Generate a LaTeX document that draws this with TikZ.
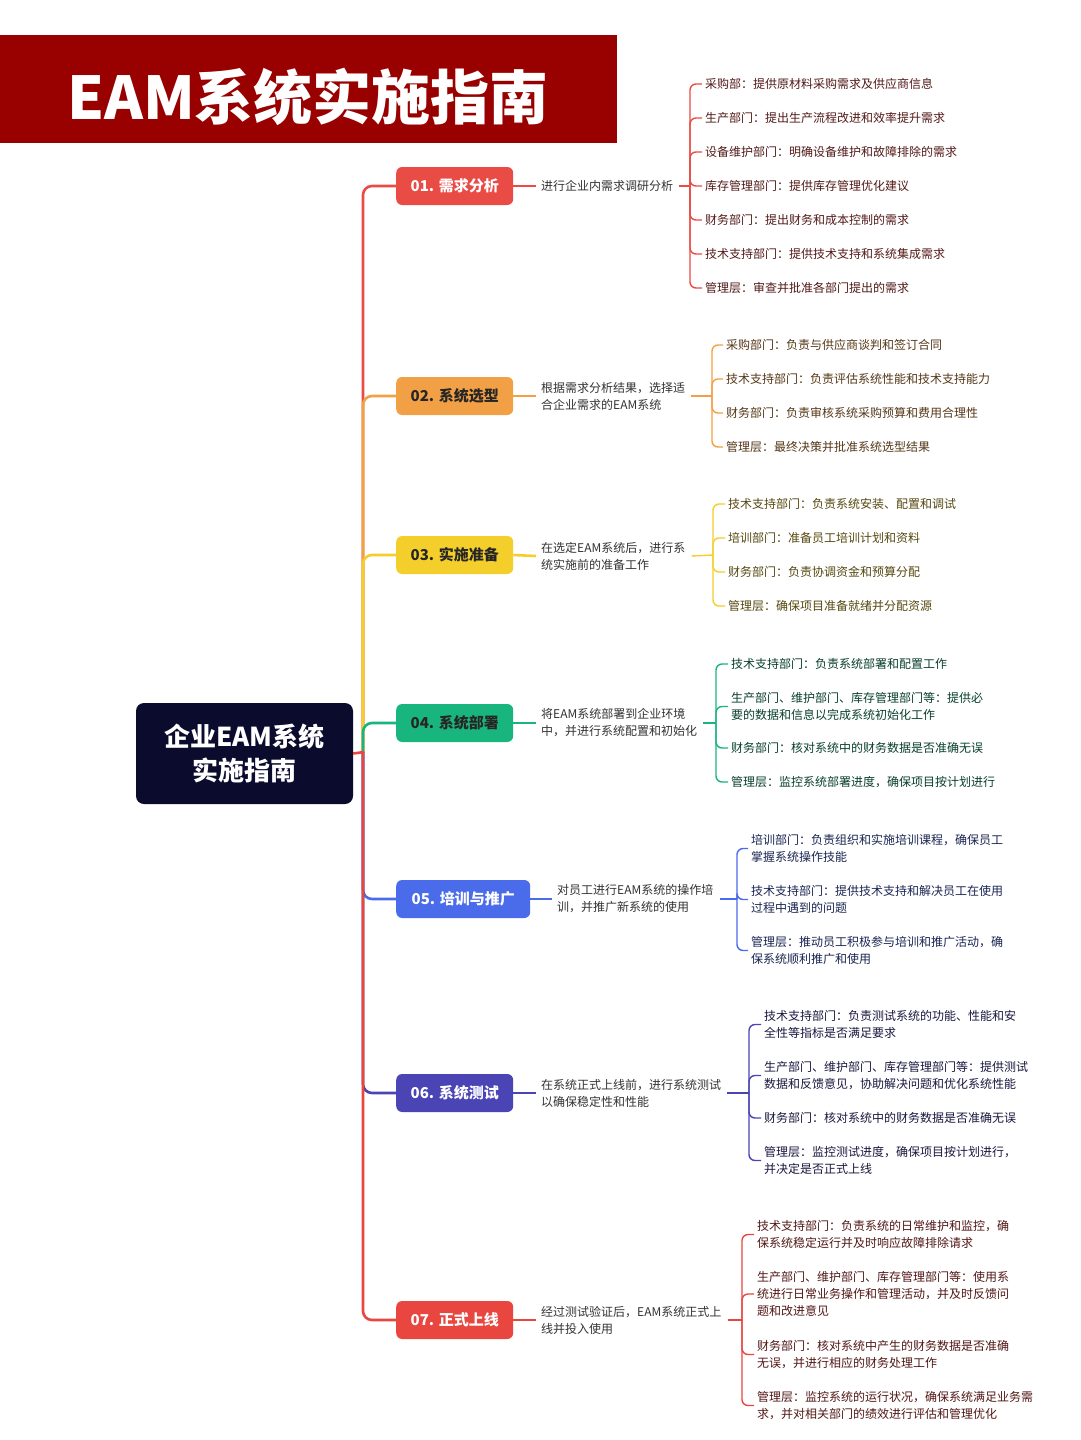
\documentclass[tikz,border=0pt]{standalone}
\usepackage{fontspec}
\setmainfont{Noto Sans CJK SC}
\usepackage{xcolor}
\usetikzlibrary{positioning}

\definecolor{banner}{HTML}{990000}
\definecolor{rootnavy}{HTML}{0B0B2E}
\definecolor{c1}{HTML}{E94B45}
\definecolor{c2}{HTML}{F2A045}
\definecolor{c3}{HTML}{F4CF2B}
\definecolor{c4}{HTML}{19B57E}
\definecolor{c5}{HTML}{4A6BEA}
\definecolor{c6}{HTML}{4A44B5}
\definecolor{c7}{HTML}{E8463F}

\begin{document}
\begin{tikzpicture}[x=1pt,y=-1pt,
	root/.style={fill=rootnavy,text=white,rounded corners=8pt,minimum width=217pt,minimum height=101pt,
		align=center,font=\fontsize{26}{34}\selectfont\bfseries},
	stage/.style={anchor=west,rounded corners=6pt,minimum width=117pt,minimum height=38pt,inner sep=0pt,
		font=\fontsize{15}{16}\selectfont\bfseries},
	desc/.style={anchor=west,align=left,inner sep=0pt,text=black!80,font=\fontsize{12}{17}\selectfont},
	leaf/.style={anchor=west,align=left,inner sep=0pt,text=#1!35!black,font=\fontsize{12}{17}\selectfont},
	trunk/.style={line width=2.6pt,rounded corners=9pt},
	twig/.style={line width=1.4pt,rounded corners=6pt}]
	
	\useasboundingbox (0,0) rectangle (1080,1440);
	\fill[white] (0,0) rectangle (1080,1440);
	
	% title banner
	\fill[banner] (0,35) rectangle (617,143);
	\node[text=white,font=\fontsize{59}{60}\selectfont\bfseries] (title) at (308,97) {EAM系统实施指南};
	
	\node[root] (root) at (244.5,753.5) {企业EAM系统\\实施指南};
	\coordinate (hub) at (363,752);
	
	\node[stage,fill=c1,text=white] (s1) at (396,186) {01. 需求分析};
	\node[stage,fill=c2,text=black!85] (s2) at (396,396) {02. 系统选型};
	\node[stage,fill=c3,text=black!85] (s3) at (396,555) {03. 实施准备};
	\node[stage,fill=c4,text=black!85] (s4) at (396,723) {04. 系统部署};
	\node[stage,fill=c5,text=white,minimum width=134pt] (s5) at (396,899) {05. 培训与推广};
	\node[stage,fill=c6,text=white] (s6) at (396,1093) {06. 系统测试};
	\node[stage,fill=c7,text=white] (s7) at (396,1320) {07. 正式上线};
	
	\node[desc] (d1) at (541,186) {进行企业内需求调研分析};
	\node[desc] (d2) at (541,396) {根据需求分析结果，选择适\\合企业需求的EAM系统};
	\node[desc] (d3) at (541,556) {在选定EAM系统后，进行系\\统实施前的准备工作};
	\node[desc] (d4) at (541,723) {将EAM系统部署到企业环境\\中，并进行系统配置和初始化};
	\node[desc] (d5) at (557,899) {对员工进行EAM系统的操作培\\训，并推广新系统的使用};
	\node[desc] (d6) at (541,1093) {在系统正式上线前，进行系统测试\\以确保稳定性和性能};
	\node[desc] (d7) at (541,1320) {经过测试验证后，EAM系统正式上\\线并投入使用};
	
	\coordinate (b1) at (690,186);
	\coordinate (b2) at (712,396);
	\coordinate (b3) at (713,555);
	\coordinate (b4) at (716,723);
	\coordinate (b5) at (737,899);
	\coordinate (b6) at (749,1093);
	\coordinate (b7) at (742,1320);
	
	% branches from the root
	\foreach \n in {1,...,7}{
		\draw[trunk,c\n] (hub) |- (s\n.west);
		\draw[trunk,c\n] (s\n.east) -- ([xshift=-5pt]d\n.west);
		\draw[twig,c\n] ([xshift=6pt]d\n.east) -- (b\n);
	}
	\draw[trunk,c7] (root.east) -- ([xshift=1.3pt]hub);
	
	% leaves
	\foreach \y/\t [count=\i] in {84/{采购部：提供原材料采购需求及供应商信息},
		118/{生产部门：提出生产流程改进和效率提升需求},
		152/{设备维护部门：明确设备维护和故障排除的需求},
		186/{库存管理部门：提供库存管理优化建议},
		220/{财务部门：提出财务和成本控制的需求},
		254/{技术支持部门：提供技术支持和系统集成需求},
		288/{管理层：审查并批准各部门提出的需求}}{
		\node[leaf=c1] (l1-\i) at (705,\y) {\t};
		\draw[twig,c1] (b1) |- ([xshift=-3pt]l1-\i.west);
	}
	\foreach \y/\t [count=\i] in {345/{采购部门：负责与供应商谈判和签订合同},
		379/{技术支持部门：负责评估系统性能和技术支持能力},
		413/{财务部门：负责审核系统采购预算和费用合理性},
		447/{管理层：最终决策并批准系统选型结果}}{
		\node[leaf=c2] (l2-\i) at (726,\y) {\t};
		\draw[twig,c2] (b2) |- ([xshift=-3pt]l2-\i.west);
	}
	\foreach \y/\t [count=\i] in {504/{技术支持部门：负责系统安装、配置和调试},
		538/{培训部门：准备员工培训计划和资料},
		572/{财务部门：负责协调资金和预算分配},
		606/{管理层：确保项目准备就绪并分配资源}}{
		\node[leaf=c3] (l3-\i) at (728,\y) {\t};
		\draw[twig,c3] (b3) |- ([xshift=-3pt]l3-\i.west);
	}
	\foreach \y/\t [count=\i] in {664/{技术支持部门：负责系统部署和配置工作},
		706.5/{生产部门、维护部门、库存管理部门等：提供必\\要的数据和信息以完成系统初始化工作},
		748/{财务部门：核对系统中的财务数据是否准确无误},
		782/{管理层：监控系统部署进度，确保项目按计划进行}}{
		\node[leaf=c4] (l4-\i) at (731,\y) {\t};
		\draw[twig,c4] (b4) |- ([xshift=-3pt]l4-\i.west);
	}
	\foreach \y/\t [count=\i] in {848.5/{培训部门：负责组织和实施培训课程，确保员工\\掌握系统操作技能},
		899.5/{技术支持部门：提供技术支持和解决员工在使用\\过程中遇到的问题},
		950.5/{管理层：推动员工积极参与培训和推广活动，确\\保系统顺利推广和使用}}{
		\node[leaf=c5] (l5-\i) at (751,\y) {\t};
		\draw[twig,c5] (b5) |- ([xshift=-3pt]l5-\i.west);
	}
	\foreach \y/\t [count=\i] in {1024.5/{技术支持部门：负责测试系统的功能、性能和安\\全性等指标是否满足要求},
		1075.5/{生产部门、维护部门、库存管理部门等：提供测试\\数据和反馈意见，协助解决问题和优化系统性能},
		1118/{财务部门：核对系统中的财务数据是否准确无误},
		1160.5/{管理层：监控测试进度，确保项目按计划进行，\\并决定是否正式上线}}{
		\node[leaf=c6] (l6-\i) at (764,\y) {\t};
		\draw[twig,c6] (b6) |- ([xshift=-3pt]l6-\i.west);
	}
	\foreach \y/\t [count=\i] in {1234.5/{技术支持部门：负责系统的日常维护和监控，确\\保系统稳定运行并及时响应故障排除请求},
		1294/{生产部门、维护部门、库存管理部门等：使用系\\统进行日常业务操作和管理活动，并及时反馈问\\题和改进意见},
		1354.5/{财务部门：核对系统中产生的财务数据是否准确\\无误，并进行相应的财务处理工作},
		1405.5/{管理层：监控系统的运行状况，确保系统满足业务需\\求，并对相关部门的绩效进行评估和管理优化}}{
		\node[leaf=c7] (l7-\i) at (757,\y) {\t};
		\draw[twig,c7] (b7) |- ([xshift=-3pt]l7-\i.west);
	}
\end{tikzpicture}
\end{document}
